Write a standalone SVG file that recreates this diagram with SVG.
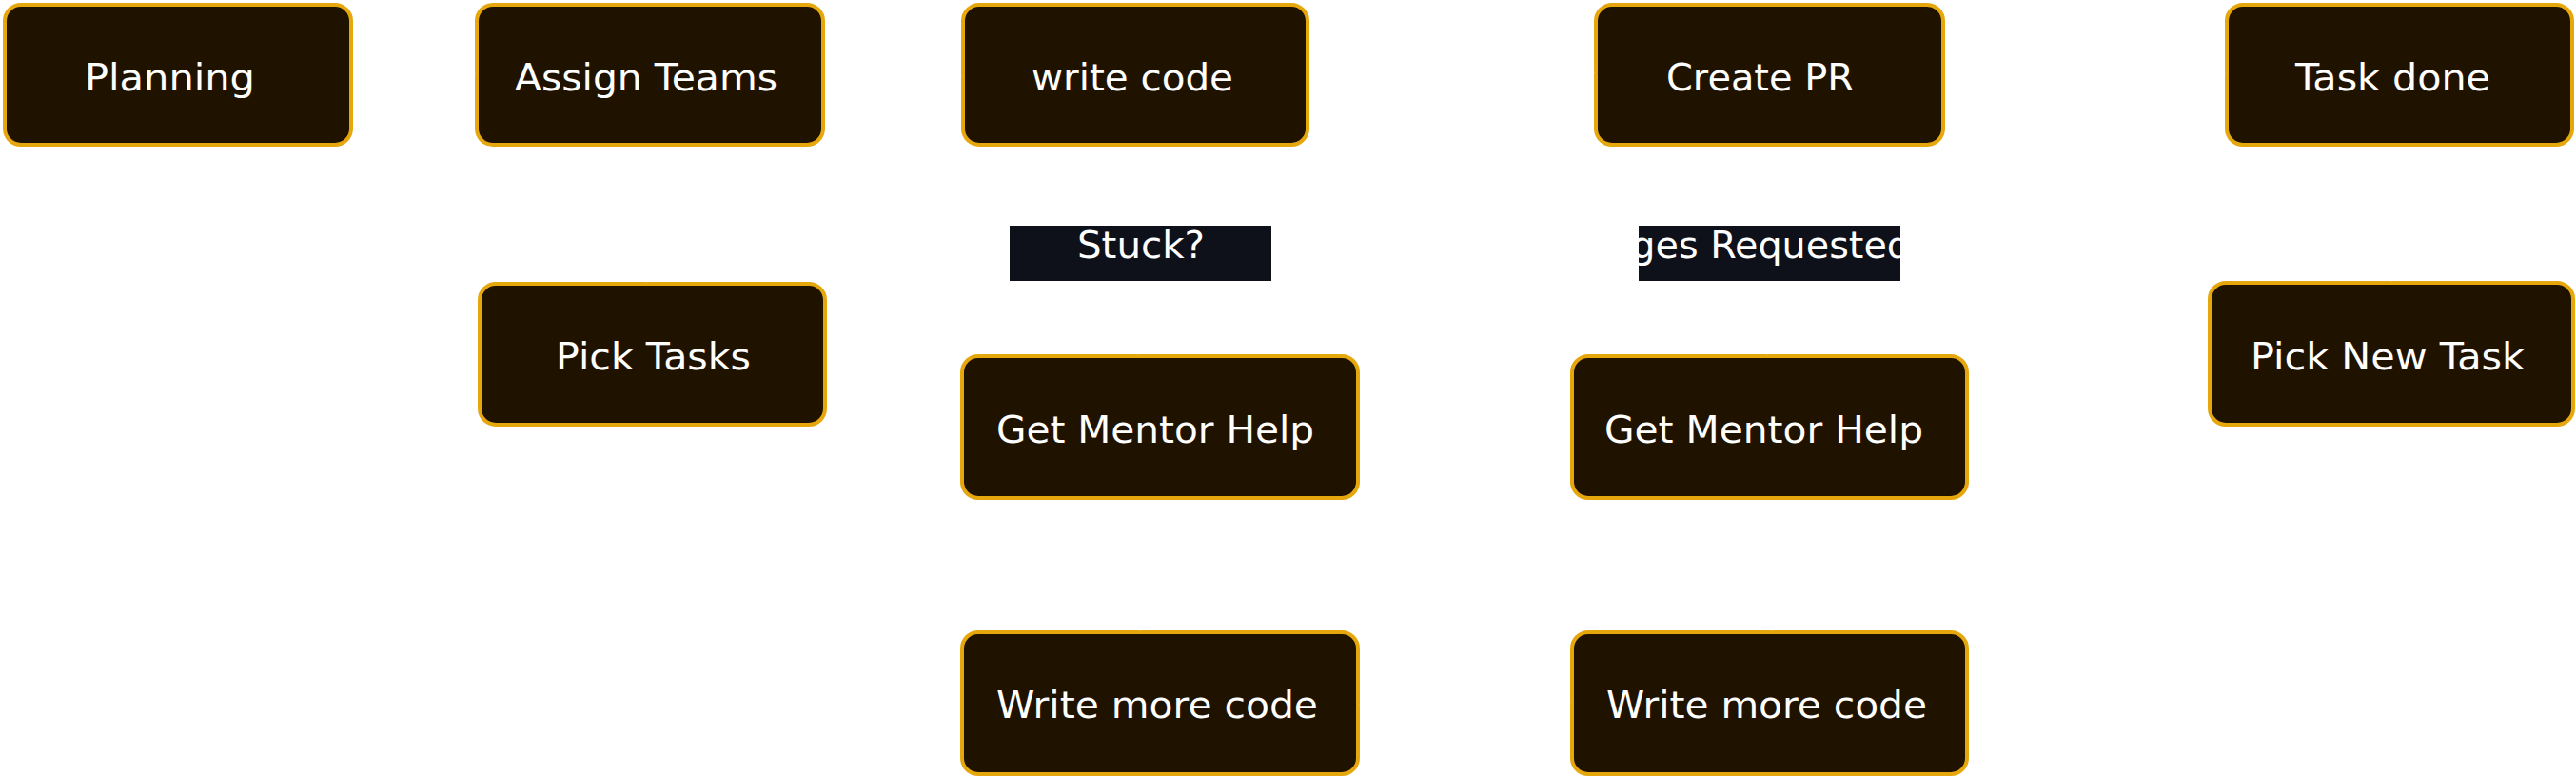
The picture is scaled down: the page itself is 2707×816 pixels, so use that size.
<svg xmlns="http://www.w3.org/2000/svg" width="2707" height="816" viewBox="0 0 2707 816">
  <style>
    .node rect { fill: #1f1300; stroke: #e6a70d; stroke-width: 4; }
    .node text, .elabel text { font-family: "DejaVu Sans", "Liberation Sans", sans-serif; font-size: 39px; fill: #ffffff; }
    .edge { fill: none; stroke: #ffffff; stroke-width: 2; }
    .elabel rect { fill: #0f111a; }
  </style>
  <defs>
    <marker id="arrow" viewBox="0 0 10 10" refX="9" refY="5" markerWidth="8" markerHeight="8" orient="auto-start-reverse" markerUnits="userSpaceOnUse">
      <path d="M0,0 L10,5 L0,10 z" fill="#ffffff"/>
    </marker>
  </defs>
  <rect x="0" y="0" width="2707" height="816" fill="#ffffff"/>

  <g id="nodes">
    <g id="planning" class="node">
      <rect x="5" y="5" width="364" height="147" rx="17"/>
      <text x="178.5" y="95" text-anchor="middle" textLength="179" lengthAdjust="spacingAndGlyphs">Planning</text>
    </g>
    <g id="assign-teams" class="node">
      <rect x="501" y="5" width="364" height="147" rx="17"/>
      <text x="679" y="95" text-anchor="middle" textLength="276" lengthAdjust="spacingAndGlyphs">Assign Teams</text>
    </g>
    <g id="write-code" class="node">
      <rect x="1012" y="5" width="362" height="147" rx="17"/>
      <text x="1190" y="95" text-anchor="middle" textLength="212" lengthAdjust="spacingAndGlyphs">write code</text>
    </g>
    <g id="create-pr" class="node">
      <rect x="1677" y="5" width="365" height="147" rx="17"/>
      <text x="1849.5" y="95" text-anchor="middle" textLength="197" lengthAdjust="spacingAndGlyphs">Create PR</text>
    </g>
    <g id="task-done" class="node">
      <rect x="2340" y="5" width="363" height="147" rx="17"/>
      <text x="2514.5" y="95" text-anchor="middle" textLength="205" lengthAdjust="spacingAndGlyphs">Task done</text>
    </g>
    <g id="pick-tasks" class="node">
      <rect x="504" y="298" width="363" height="148" rx="17"/>
      <text x="686.5" y="388" text-anchor="middle" textLength="205" lengthAdjust="spacingAndGlyphs">Pick Tasks</text>
    </g>
    <g id="mentor-help-1" class="node">
      <rect x="1011" y="374" width="416" height="149" rx="17"/>
      <text x="1214" y="465" text-anchor="middle" textLength="334" lengthAdjust="spacingAndGlyphs">Get Mentor Help</text>
    </g>
    <g id="mentor-help-2" class="node">
      <rect x="1652" y="374" width="415" height="149" rx="17"/>
      <text x="1853.5" y="465" text-anchor="middle" textLength="335" lengthAdjust="spacingAndGlyphs">Get Mentor Help</text>
    </g>
    <g id="write-more-1" class="node">
      <rect x="1011" y="664" width="416" height="149" rx="17"/>
      <text x="1216" y="754" text-anchor="middle" textLength="338" lengthAdjust="spacingAndGlyphs">Write more code</text>
    </g>
    <g id="write-more-2" class="node">
      <rect x="1652" y="664" width="415" height="149" rx="17"/>
      <text x="1856.5" y="754" text-anchor="middle" textLength="337" lengthAdjust="spacingAndGlyphs">Write more code</text>
    </g>
    <g id="pick-new-task" class="node">
      <rect x="2322" y="297" width="382" height="149" rx="17"/>
      <text x="2509" y="388" text-anchor="middle" textLength="288" lengthAdjust="spacingAndGlyphs">Pick New Task</text>
    </g>
  </g>

  <g id="connectors">
    <path class="edge" d="M371,78 L499,78" marker-end="url(#arrow)"/>
    <path class="edge" d="M679,154 L679,296" marker-end="url(#arrow)"/>
    <path class="edge" d="M869,372 C940,372 940,80 1010,80" marker-end="url(#arrow)"/>
    <path class="edge" d="M1196,154 L1196,372" marker-end="url(#arrow)"/>
    <path class="edge" d="M1198,525 L1198,662" marker-end="url(#arrow)"/>
    <path class="edge" d="M1429,740 C1560,700 1520,150 1675,76" marker-end="url(#arrow)"/>
    <path class="edge" d="M1650,739 C1560,700 1545,300 1580,150"/>
    <path class="edge" d="M1857,154 L1857,372" marker-end="url(#arrow)"/>
    <path class="edge" d="M1861,525 L1861,662" marker-end="url(#arrow)"/>
    <path class="edge" d="M2044,78 L2338,78" marker-end="url(#arrow)"/>
    <path class="edge" d="M2521,154 L2513,295" marker-end="url(#arrow)"/>
  </g>

  <g id="edge-labels">
    <g id="label-stuck" class="elabel">
      <rect x="1061" y="237" width="275" height="58"/>
      <text x="1199" y="271" text-anchor="middle" textLength="134" lengthAdjust="spacingAndGlyphs">Stuck?</text>
    </g>
    <g id="label-changes" class="elabel">
      <rect x="1722" y="237" width="275" height="58"/>
      <text x="1612" y="271" textLength="396" lengthAdjust="spacingAndGlyphs">Changes Requested</text>
    </g>
  </g>
</svg>
